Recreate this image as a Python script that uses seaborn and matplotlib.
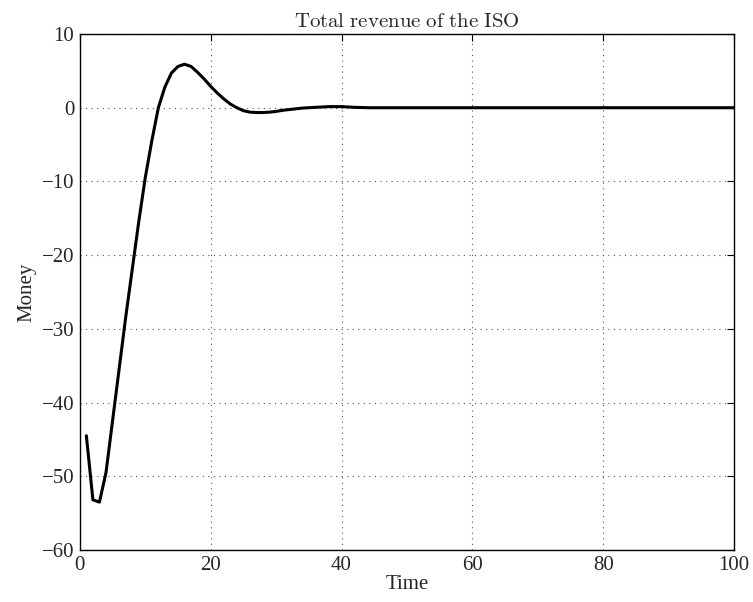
import numpy as np
import pandas as pd
import matplotlib
matplotlib.use("Agg")
import matplotlib.pyplot as plt
import seaborn as sns

# time steps 1..100 and revenue
time = list(range(1, 101))
revenue_head = [
    -44.5, -53.2, -53.5, -49.5, -42.5, -35.5, -28.5, -22.0, -15.5, -9.5,
    -4.5, 0.0, 2.8, 4.7, 5.6, 5.9, 5.6, 4.8, 3.9, 2.9,
    2.0, 1.2, 0.5, 0.0, -0.4, -0.6, -0.65, -0.65, -0.6, -0.5,
    -0.35, -0.25, -0.15, -0.05, 0.0, 0.05, 0.1, 0.15, 0.15, 0.15,
    0.1, 0.05, 0.03,
]
revenue_tail = [0.0] * (len(time) - len(revenue_head))
revenue = revenue_head + revenue_tail

df = pd.DataFrame({"Time": time, "Money": revenue})

sns.set_style("white")
plt.rcParams["font.family"] = ["Liberation Serif", "DejaVu Serif"]
plt.rcParams["mathtext.fontset"] = "cm"

fig = plt.figure(figsize=(7.53, 6.02), dpi=100)
ax = fig.add_axes([0.106, 0.0864, 0.869, 0.8571])

sns.lineplot(data=df, x="Time", y="Money", color="black", linewidth=2.2, ax=ax)

ax.set_xlim(0, 100)
ax.set_ylim(-60, 10)
ax.set_xticks(np.arange(0, 101, 20))
ax.set_yticks(np.arange(-60, 11, 10))
ax.grid(True, linestyle=(0, (1, 4)), color="#555555", linewidth=0.8)
ax.tick_params(direction="in", length=5, labelsize=15, top=True, right=True,
               color="black", width=0.8, pad=4)
for s in ax.spines.values():
    s.set_color("black")
    s.set_linewidth(1.0)

ax.set_xlabel("Time", fontsize=15, labelpad=0)
ax.set_ylabel("Money", fontsize=15, labelpad=4)
ax.set_title(r"$\mathrm{Total\ revenue\ of\ the\ ISO}$", fontsize=15, pad=5)

fig.savefig("out.png", dpi=100)
